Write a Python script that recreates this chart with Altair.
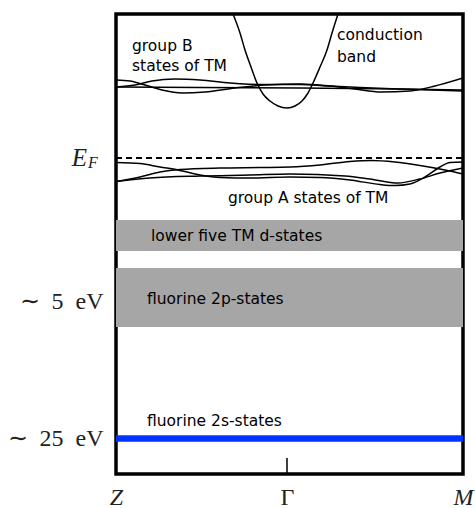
import altair as alt
import pandas as pd

# ---- data (k along path Z-Gamma-M in arb. units, energy in arb. units) ----
K_MAX = 347
E_MAX = 460

k_B1 = [0, 14, 29, 46, 66, 89, 119, 149, 184, 214, 239, 265, 294, 319, 347]
E_B1 = [394, 393, 389, 384, 381, 382, 386, 389, 390, 388, 385, 382, 383, 388, 396]
k_B2 = [0, 19, 36, 59, 84, 114, 149, 184, 214, 244, 284, 347]
E_B2 = [387, 389, 393, 395, 394, 391, 389.5, 389.5, 388, 386.5, 385, 383]
k_B3 = [0, 84, 184, 284, 347]
E_B3 = [387, 386.5, 386, 385, 384]

k_A1 = [0, 24, 44, 62, 84, 104, 134, 174, 204, 234, 264, 279, 294, 309, 324, 334, 347]
E_A1 = [311.5, 310.5, 307, 304, 299, 296.5, 296, 297, 296.5, 294, 289.5, 288.5, 290, 297, 307, 311.5, 312]
k_A2 = [0, 24, 44, 64, 104, 144, 174, 204, 234, 255, 279, 304, 329, 347]
E_A2 = [292.5, 297, 302, 304.5, 306, 306.5, 307, 309, 312.5, 313.5, 312, 308.5, 304, 300]
k_A3 = [0, 34, 84, 134, 174, 229, 254, 282, 304, 324, 347]
E_A3 = [292.5, 296, 298, 299, 300, 298, 295, 291, 295, 301, 306]

k_CB = [117, 124, 129, 135, 141, 147, 154, 162, 171, 179, 186, 192, 197, 204, 211, 216, 222]
E_CB = [460, 441, 424, 407, 391, 380, 373, 368, 366, 368, 373, 381, 391, 407, 424, 441, 460]

E_fermi = 316
band_names = ["lower five TM d-states", "fluorine 2p-states"]
band_lo = [223, 147]
band_hi = [254, 206]
E_2s = 35.5

k_ticks = [0, 171, 347]
k_labels = ["Z", "Γ", "M"]
E_ticks = [173, 36]
E_labels = ["∼\u00a0 5\u00a0 eV", "∼\u00a0 25\u00a0 eV"]

ann_text = ["group B", "states of TM", "conduction", "band",
            "group A states of TM", "lower five TM d-states",
            "fluorine 2p-states", "fluorine 2s-states"]
ann_k = [16, 16, 221, 221, 112, 35, 31, 31]
ann_E = [423, 403, 434, 412, 271, 233, 170, 48]

# ---- tables ----
rows = []
for name, ks, es in [("B1", k_B1, E_B1), ("B2", k_B2, E_B2), ("B3", k_B3, E_B3),
                     ("A1", k_A1, E_A1), ("A2", k_A2, E_A2), ("A3", k_A3, E_A3),
                     ("CB", k_CB, E_CB)]:
    for i, (k, e) in enumerate(zip(ks, es)):
        rows.append({"band": name, "k": k, "E": e, "i": i})
lines_df = pd.DataFrame(rows)

bands_df = pd.DataFrame({"name": band_names, "lo": band_lo, "hi": band_hi,
                         "k0": [0, 0], "k1": [K_MAX, K_MAX]})
ef_df = pd.DataFrame({"k0": [0], "k1": [K_MAX], "E": [E_fermi]})
s2_df = pd.DataFrame({"k0": [0], "k1": [K_MAX], "E": [E_2s]})
gtick_df = pd.DataFrame({"k": [k_ticks[1]], "E0": [0], "E1": [16]})
ann_df = pd.DataFrame({"t": ann_text, "k": ann_k, "E": ann_E})
ef_lbl_df = pd.DataFrame({"t": ["E", "F"], "k": [-29, -28], "E": [308, 306]})

label_map = "{" + ",".join(f"'{v}':'{t}'" for v, t in zip(k_ticks, k_labels)) + "}"
elabel_map = "{" + ",".join(f"'{v}':'{t}'" for v, t in zip(E_ticks, E_labels)) + "}"

xs = alt.Scale(domain=[0, K_MAX], nice=False, zero=False)
ys = alt.Scale(domain=[0, E_MAX], nice=False, zero=False)

x_axis = alt.Axis(values=k_ticks, labelExpr=f"{label_map}[''+datum.value]",
                  title=None, grid=False, domain=False, ticks=False, tickSize=0,
                  labelFont="Liberation Serif", labelFontSize=24,
                  labelFontStyle=alt.condition(f"datum.value == {k_ticks[1]}",
                                               alt.value("normal"), alt.value("italic")),
                  labelBaseline="alphabetic", labelPadding=30,
                  labelFlush=False, labelOverlap=False, labelColor="#222")
y_axis = alt.Axis(values=E_ticks, labelExpr=f"{elabel_map}[''+datum.value]",
                  title=None, grid=False, domain=False, ticks=False, tickSize=0,
                  labelFont="Liberation Serif", labelFontSize=24,
                  labelPadding=13, labelFlush=False, labelOverlap=False,
                  labelColor="#222")

gray = alt.Chart(bands_df).mark_rect(color="#a6a6a6").encode(
    x=alt.X("k0:Q", scale=xs, axis=x_axis), x2="k1:Q",
    y=alt.Y("lo:Q", scale=ys, axis=y_axis), y2="hi:Q")

blue = alt.Chart(s2_df).mark_rule(color="#0033ff", strokeWidth=6.5).encode(
    x=alt.X("k0:Q", scale=xs), x2="k1:Q", y=alt.Y("E:Q", scale=ys))

ef = alt.Chart(ef_df).mark_rule(color="black", strokeWidth=2, strokeDash=[6, 4]).encode(
    x=alt.X("k0:Q", scale=xs), x2="k1:Q", y=alt.Y("E:Q", scale=ys))

curves = alt.Chart(lines_df).mark_line(color="black", strokeWidth=1.5,
                                       interpolate="monotone", clip=True).encode(
    x=alt.X("k:Q", scale=xs), y=alt.Y("E:Q", scale=ys),
    detail="band:N", order="i:Q")

gtick = alt.Chart(gtick_df).mark_rule(color="black", strokeWidth=1.5).encode(
    x=alt.X("k:Q", scale=xs), y=alt.Y("E0:Q", scale=ys), y2="E1:Q")

ann = alt.Chart(ann_df).mark_text(align="left", baseline="alphabetic",
                                  font="DejaVu Sans", fontSize=15.5, color="black").encode(
    x=alt.X("k:Q", scale=xs), y=alt.Y("E:Q", scale=ys), text="t:N")

efl_E = alt.Chart(ef_lbl_df).transform_filter("datum.t == 'E'").mark_text(
    align="right", baseline="alphabetic", font="Liberation Serif", fontSize=25,
    fontStyle="italic", color="#222").encode(
    x=alt.X("k:Q", scale=xs), y=alt.Y("E:Q", scale=ys), text="t:N")
efl_F = alt.Chart(ef_lbl_df).transform_filter("datum.t == 'F'").mark_text(
    align="left", baseline="alphabetic", font="Liberation Serif", fontSize=16,
    fontStyle="italic", color="#222").encode(
    x=alt.X("k:Q", scale=xs), y=alt.Y("E:Q", scale=ys), text="t:N")

chart = alt.layer(gray, blue, ef, curves, gtick, ann, efl_E, efl_F).properties(
    width=K_MAX, height=E_MAX,
    padding={"left": 116, "top": 14, "right": 12, "bottom": 34},
    autosize=alt.AutoSizeParams(type="none"),
    background="white",
).configure_view(stroke="black", strokeWidth=3.5)

chart.save("out.html", embed_options={"renderer": "svg", "actions": False})
